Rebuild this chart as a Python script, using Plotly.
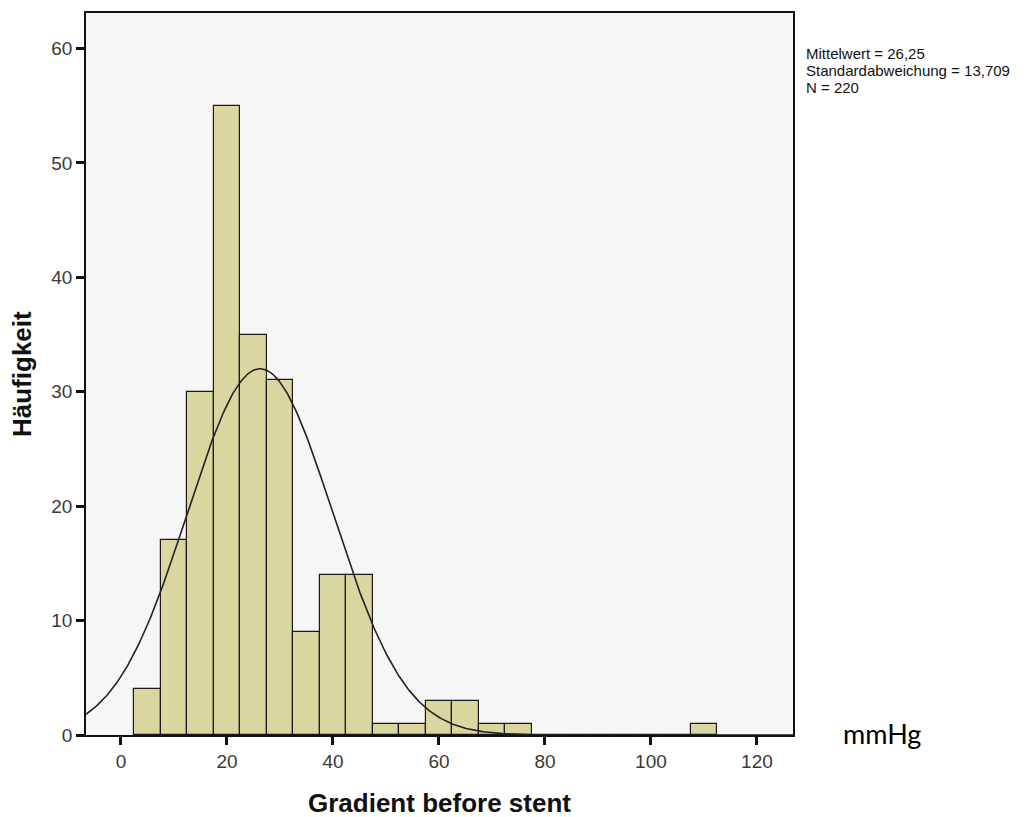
import numpy as np
import plotly.graph_objects as go

# Histogram data (bin centers, width 5)
bin_centers = [5, 10, 15, 20, 25, 30, 35, 40, 45, 50, 55, 60, 65, 70, 75, 80, 85, 90, 95, 100, 105, 110]
counts = [4, 17, 30, 55, 35, 31, 9, 14, 14, 1, 1, 3, 3, 1, 1, 0, 0, 0, 0, 0, 0, 1]
bin_width = 5
mean_val = 26.25
sd_val = 13.709
n_val = 220

x_ticks = [0, 20, 40, 60, 80, 100, 120]
y_ticks = [0, 10, 20, 30, 40, 50, 60]

# Fitted normal curve (from the displayed mean/sd/N)
xc = np.linspace(-6.6, 126.8, 600)
yc = n_val * bin_width / (sd_val * np.sqrt(2 * np.pi)) * np.exp(-0.5 * ((xc - mean_val) / sd_val) ** 2)

fig = go.Figure()
fig.add_trace(go.Bar(
    x=bin_centers, y=counts, width=bin_width,
    marker=dict(color="#D9D6A0", line=dict(color="#1a1a1a", width=1.2)),
    showlegend=False, hoverinfo="x+y",
))
fig.add_trace(go.Scatter(
    x=xc, y=yc, mode="lines",
    line=dict(color="#222222", width=1.6),
    showlegend=False, hoverinfo="skip",
))

fig.update_layout(
    width=1027, height=817,
    margin=dict(l=86, r=234, t=13, b=82, autoexpand=False),
    paper_bgcolor="white",
    plot_bgcolor="#F6F6F6",
    bargap=0,
    font=dict(family="Liberation Sans, Arial, sans-serif", color="#333333"),
    xaxis=dict(
        range=[-6.6, 126.8], tickvals=x_ticks, ticktext=[str(v) for v in x_ticks],
        ticks="outside", ticklen=8, tickwidth=2.5, tickcolor="#111111",
        showgrid=False, zeroline=False, automargin=False,
        showline=True, linecolor="#111111", linewidth=1.5, mirror=True,
        tickfont=dict(size=19, color="#3a3a3a"),
    ),
    yaxis=dict(
        range=[0, 63.1], tickvals=y_ticks, ticktext=[str(v) for v in y_ticks],
        ticks="outside", ticklen=8, tickwidth=2.5, tickcolor="#111111",
        showgrid=False, zeroline=False, automargin=False,
        showline=True, linecolor="#111111", linewidth=1.5, mirror=True,
        tickfont=dict(size=19, color="#3a3a3a"),
    ),
)

# Axis titles
fig.add_annotation(
    xref="paper", yref="paper", x=0.5, y=0.0, xanchor="center", yanchor="middle",
    yshift=-68, text="<b>Gradient before stent</b>", showarrow=False,
    font=dict(family="Liberation Sans, Arial, sans-serif", size=26, color="#111111"),
)
fig.add_annotation(
    xref="paper", yref="paper", x=0.0, y=0.5, xanchor="center", yanchor="middle",
    xshift=-64, textangle=-90, text="<b>Häufigkeit</b>", showarrow=False,
    font=dict(family="Liberation Sans, Arial, sans-serif", size=26, color="#111111"),
)

stats_lines = [
    f"Mittelwert = {mean_val:.2f}".replace(".", ","),
    f"Standardabweichung = {sd_val:.3f}".replace(".", ","),
    f"N = {n_val}",
]
for i, line in enumerate(stats_lines):
    fig.add_annotation(
        xref="paper", yref="paper", x=1.0, y=1.0, xanchor="left", yanchor="middle",
        xshift=11, yshift=-40 - 17 * i, text=line, showarrow=False, align="left",
        font=dict(family="Liberation Sans, Arial, sans-serif", size=15, color="#111111"),
    )
fig.add_annotation(
    xref="paper", yref="paper", x=1.0, y=0.0, xanchor="left", yanchor="middle",
    xshift=48, yshift=2, text="mmHg", showarrow=False,
    font=dict(family="Lato, Open Sans, sans-serif", size=27, color="#000000"),
)

fig.write_html("out.html")
